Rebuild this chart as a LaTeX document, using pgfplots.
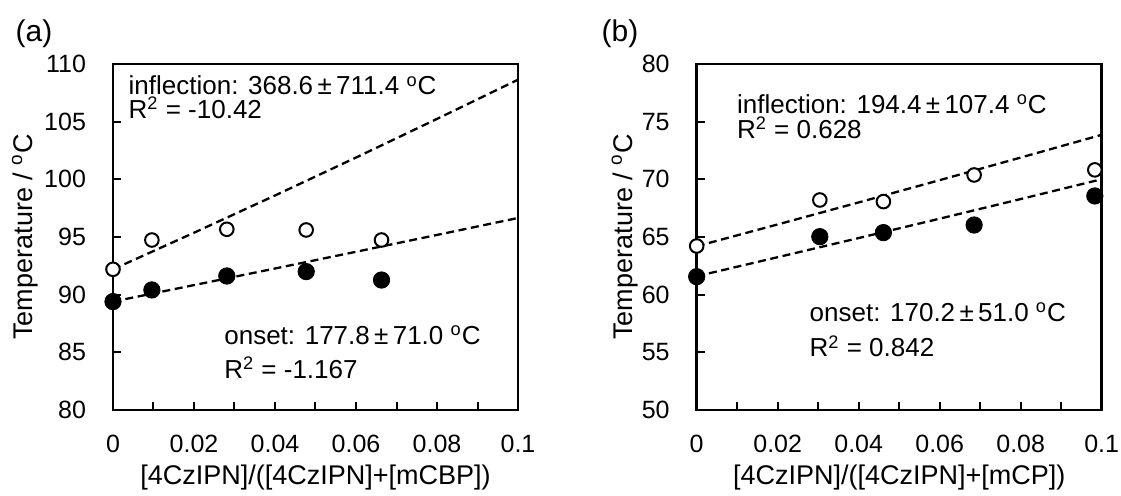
\documentclass[border=0pt]{standalone}
\usepackage{fontspec}
\setmainfont{Liberation Sans}
\usepackage{pgfplots}
\pgfplotsset{compat=1.18}
\begin{document}
\begin{tikzpicture}
\pgfplotsset{
  tgpanel/.style={
    scale only axis, width=202.5pt, height=173pt,
    xmin=0, xmax=0.1,
    xtick={0,0.02,0.04,0.06,0.08,0.1},
    xticklabels={0,0.02,0.04,0.06,0.08,0.1},
    minor x tick num=1,
    tick align=inside, xtick pos=left, ytick pos=left,
    major tick length=4pt, minor tick length=4pt,
    axis line style={line width=1.3pt},
    every tick/.append style={black, line width=1pt},
    xticklabel style={font=\fontsize{12.5}{15}\selectfont, yshift=-9pt},
    yticklabel style={font=\fontsize{12.5}{15}\selectfont, xshift=-10pt},
    xlabel style={font=\fontsize{13.5}{16}\selectfont,
      at={(axis description cs:0.5,-0.1951)}, anchor=center},
    clip=false,
  },
  openmark/.style={only marks, mark=*, mark size=3.4pt,
    mark options={draw=black, fill=white, line width=1pt}},
  fullmark/.style={only marks, mark=*, mark size=4.1pt,
    mark options={draw=black, fill=black}},
  fitline/.style={no marks, black, line width=1.15pt, dash pattern=on 4pt off 2.3pt},
}
\tikzset{note/.style={anchor=base west, inner sep=0pt, font=\fontsize{13}{15}\selectfont}}
\path[use as bounding box] (0,0) rectangle (560.5pt,247.5pt);

\node[font=\fontsize{15}{18}\selectfont] at (17pt,230.6pt) {(a)};
\node[font=\fontsize{15}{18}\selectfont] at (310pt,230.6pt) {(b)};

% (a) 4CzIPN in mCBP
\begin{axis}[tgpanel, at={(56.5pt,42.5pt)}, anchor=south west,
  ymin=80, ymax=110, ytick={80,85,90,95,100,105,110},
  yticklabels={80,85,90,95,100,105,110},
  xlabel={[4CzIPN]/([4CzIPN]+[mCBP])},
  ylabel={Temperature / \textsuperscript{o}C},
  ylabel style={font=\fontsize{13.5}{16}\selectfont,
    at={(axis description cs:-0.2173,0.5)}, anchor=center},
]
\addplot[openmark] coordinates {(0,92.2) (0.0096,94.74) (0.0281,95.67) (0.0477,95.61) (0.0663,94.74)};
\addplot[fullmark] coordinates {(0,89.4) (0.0096,90.41) (0.0281,91.62) (0.0477,92.0) (0.0663,91.27)};
% inflection fit
\addplot[fitline] coordinates {(0,92.2) (0.02,95.37) (0.04,98.60) (0.06,101.89) (0.08,105.24) (0.1,108.64)};
% onset fit
\addplot[fitline] coordinates {(0,89.4) (0.02,90.83) (0.04,92.27) (0.06,93.72) (0.08,95.18) (0.1,96.65)};
\node[note] at (axis cs:0.00378,107.32) {inflection: 368.6\,±\,711.4 \textsuperscript{o}C};
\node[note] at (axis cs:0.00378,105.3) {R\textsuperscript{2} = -10.42};
\node[note] at (axis cs:0.0274,85.70) {onset: 177.8\,±\,71.0 \textsuperscript{o}C};
\node[note] at (axis cs:0.0274,82.75) {R\textsuperscript{2} = -1.167};
\end{axis}

% (b) 4CzIPN in mCP
\begin{axis}[tgpanel, at={(348.35pt,42.5pt)}, anchor=south west,
  ymin=50, ymax=80, ytick={50,55,60,65,70,75,80},
  yticklabels={50,55,60,65,70,75,80},
  xlabel={[4CzIPN]/([4CzIPN]+[mCP])},
  ylabel={Temperature / \textsuperscript{o}C},
  ylabel style={font=\fontsize{13.5}{16}\selectfont,
    at={(axis description cs:-0.1778,0.5)}, anchor=center},
]
\addplot[openmark] coordinates {(0,64.22) (0.0304,68.21) (0.0461,68.07) (0.0685,70.38) (0.0983,70.82)};
\addplot[fullmark] coordinates {(0,61.56) (0.0304,65.03) (0.0461,65.38) (0.0685,66.04) (0.0983,68.56)};
% inflection fit
\addplot[fitline] coordinates {(0,64.2) (0.02,66.09) (0.04,68.00) (0.06,69.93) (0.08,71.89) (0.1,73.86)};
% onset fit
\addplot[fitline] coordinates {(0,61.6) (0.02,63.25) (0.04,64.91) (0.06,66.59) (0.08,68.29) (0.1,70.01)};
\node[note] at (axis cs:0.00988,75.73) {inflection: 194.4\,±\,107.4 \textsuperscript{o}C};
\node[note] at (axis cs:0.00988,73.56) {R\textsuperscript{2} = 0.628};
\node[note] at (axis cs:0.0278,57.66) {onset: 170.2\,±\,51.0 \textsuperscript{o}C};
\node[note] at (axis cs:0.0278,54.62) {R\textsuperscript{2} = 0.842};
\end{axis}
\end{tikzpicture}
\end{document}
